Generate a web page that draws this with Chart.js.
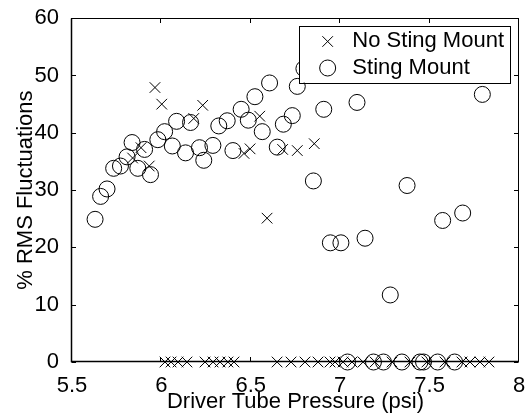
<!DOCTYPE html>
<html><head><meta charset="utf-8">
<script src="https://cdn.jsdelivr.net/npm/chart.js@4.4.0/dist/chart.umd.min.js"></script>
<style>html,body{margin:0;padding:0;background:#fff;}#wrap{width:530px;height:413px;}</style>
</head><body><div id="wrap"><canvas id="c" width="530" height="413"></canvas></div>
<script>
const xTickLabels = ['5.5','6','6.5','7','7.5','8'];
const yTickLabels = ['0','10','20','30','40','50','60'];
const xTitle = 'Driver Tube Pressure (psi)';
const yTitle = '% RMS Fluctuations';
const seriesNames = ['No Sting Mount', 'Sting Mount'];

const noStingX = [5.839, 5.886, 5.932, 5.964, 6.002, 6.181, 6.231, 6.462, 6.496, 6.550, 6.591, 6.678, 6.760, 6.855,
  6.020, 6.054, 6.093, 6.143, 6.244, 6.289, 6.328, 6.372, 6.406, 6.647, 6.725, 6.803, 6.876, 6.943, 6.971,
  7.016, 7.066, 7.128, 7.195, 7.290, 7.390, 7.485, 7.586, 7.681, 7.726, 7.782, 7.832];
const noStingY = [35.6, 37.4, 34.2, 47.9, 45.0, 42.5, 44.8, 36.4, 37.2, 42.9, 25.1, 37.1, 36.9, 38.1,
  0, 0, 0, 0, 0, 0, 0, 0, 0, 0, 0, 0, 0, 0, 0,
  0, 0, 0, 0, 0, 0, 0, 0, 0, 0, 0, 0];

const stingX = [5.629, 5.660, 5.696, 5.733, 5.771, 5.808, 5.836, 5.868, 5.906, 5.939, 5.980, 6.018, 6.061, 6.085,
  6.135, 6.163, 6.213, 6.237, 6.288, 6.321, 6.368, 6.400, 6.446, 6.486, 6.523, 6.564, 6.605, 6.648, 6.682,
  6.732, 6.760, 6.797, 6.850, 6.908, 6.945, 7.004, 7.041, 7.094, 7.139, 7.186, 7.242, 7.280, 7.345, 7.374,
  7.446, 7.466, 7.545, 7.573, 7.640, 7.685, 7.795];
const stingY = [24.9, 28.9, 30.2, 33.8, 34.2, 35.8, 38.3, 33.8, 37.1, 32.7, 38.8, 40.2, 37.7, 42.0,
  36.5, 41.8, 37.4, 35.2, 37.8, 41.2, 42.1, 36.9, 44.1, 42.2, 46.3, 40.2, 48.7, 37.5, 41.5,
  43.0, 48.1, 51.2, 31.6, 44.1, 20.8, 20.8, 0, 45.3, 21.6, 0, 0, 11.7, 0, 30.8,
  0, 0, 0, 24.7, 0, 26.0, 46.7];

const FONT = "'Liberation Sans', Arial, Helvetica, sans-serif";

const framePlugin = {
  id: 'frame',
  beforeDatasetsDraw(chart) {
    const {ctx, chartArea: a, scales: {x, y}} = chart;
    ctx.save();
    ctx.strokeStyle = '#000';
    ctx.lineWidth = 1;
    const L = Math.round(a.left) - 0.5, R = Math.round(a.right) - 0.5;
    const T = Math.round(a.top) + 0.5, B = Math.round(a.bottom) - 0.5;
    ctx.strokeRect(L, T, R - L, B - T);
    ctx.lineWidth = 1.5;
    ctx.beginPath(); ctx.moveTo(L, T); ctx.lineTo(L, B); ctx.lineTo(R, B); ctx.stroke();
    ctx.lineWidth = 1;
    const tl = 4.5;
    ctx.beginPath();
    x.ticks.forEach(t => {
      const px = Math.round(x.getPixelForValue(t.value)) - 0.5;
      ctx.moveTo(px, B); ctx.lineTo(px, B - tl);
      ctx.moveTo(px, T); ctx.lineTo(px, T + tl);
    });
    y.ticks.forEach(t => {
      const py = Math.round(y.getPixelForValue(t.value)) + 0.5;
      ctx.moveTo(L, py); ctx.lineTo(L + tl, py);
      ctx.moveTo(R, py); ctx.lineTo(R - tl, py);
    });
    ctx.stroke();
    ctx.restore();
  },
  afterDatasetsDraw(chart) {
    const {ctx, chartArea: a} = chart;
    ctx.save();
    ctx.font = '22px ' + FONT;
    const ds = chart.data.datasets;
    const textW = Math.max(...ds.map(d => ctx.measureText(d.label).width));
    const boxRight = a.right - 9;
    const boxLeft = boxRight - textW - 6 - 53.3;
    const boxTop = a.top + 7.7, boxBottom = a.top + 64.3;
    ctx.fillStyle = '#fff';
    ctx.fillRect(boxLeft, boxTop, boxRight - boxLeft, boxBottom - boxTop);
    ctx.strokeStyle = '#000';
    ctx.lineWidth = 1;
    ctx.strokeRect(Math.round(boxLeft) + 0.5, Math.round(boxTop) + 0.5, Math.round(boxRight - boxLeft), Math.round(boxBottom - boxTop));
    const rows = [a.top + 23.3, a.top + 49.8];
    ds.forEach((d, i) => {
      ctx.strokeStyle = '#000';
      ctx.fillStyle = 'rgba(0,0,0,0)';
      ctx.lineWidth = 1;
      Chart.helpers.drawPoint(ctx, {pointStyle: d.pointStyle, radius: d.pointRadius, rotation: 0, borderWidth: 1}, boxLeft + 28.6, rows[i]);
      ctx.fillStyle = '#000';
      ctx.textBaseline = 'middle';
      ctx.textAlign = 'left';
      ctx.fillText(d.label, boxLeft + 53.3, rows[i] - 0.5);
    });
    ctx.restore();
  }
};

new Chart(document.getElementById('c'), {
  type: 'scatter',
  data: {
    datasets: [
      {
        label: seriesNames[0],
        data: noStingX.map((v, i) => ({x: v, y: noStingY[i]})),
        pointStyle: 'crossRot', pointRadius: 7.5, borderColor: '#000', backgroundColor: 'rgba(0,0,0,0)',
        borderWidth: 1, showLine: false, clip: false
      },
      {
        label: seriesNames[1],
        data: stingX.map((v, i) => ({x: v, y: stingY[i]})),
        pointStyle: 'circle', pointRadius: 8, borderColor: '#000', backgroundColor: 'rgba(0,0,0,0)',
        borderWidth: 1, showLine: false, clip: false
      }
    ]
  },
  options: {
    responsive: false,
    animation: false,
    devicePixelRatio: 1,
    events: [],
    layout: {padding: {left: 0, right: 11, top: 14, bottom: 0}},
    plugins: {legend: {display: false}, tooltip: {enabled: false}},
    scales: {
      x: {
        type: 'linear', min: 5.5, max: 8,
        afterBuildTicks: s => { s.ticks = xTickLabels.map(l => ({value: Number(l)})); },
        afterFit: s => { s.height = 51; },
        grid: {display: false}, border: {display: false},
        ticks: {
          autoSkip: false, maxRotation: 0, padding: 3, color: '#000',
          font: {family: FONT, size: 22},
          callback: v => xTickLabels.find(l => Number(l) === v)
        },
        title: {display: true, text: xTitle, color: '#000', font: {family: FONT, size: 22, lineHeight: 1}, padding: 0}
      },
      y: {
        type: 'linear', min: 0, max: 60,
        afterBuildTicks: s => { s.ticks = yTickLabels.map(l => ({value: Number(l)})); },
        afterFit: s => { s.width = 72; },
        grid: {display: false}, border: {display: false},
        ticks: {
          autoSkip: false, padding: 5, color: '#000',
          font: {family: FONT, size: 22},
          callback: v => yTickLabels.find(l => Number(l) === v)
        },
        title: {display: true, text: yTitle, color: '#000', font: {family: FONT, size: 22, lineHeight: 1}, padding: {top: 15, bottom: 0}}
      }
    }
  },
  plugins: [framePlugin]
});
</script></body></html>
